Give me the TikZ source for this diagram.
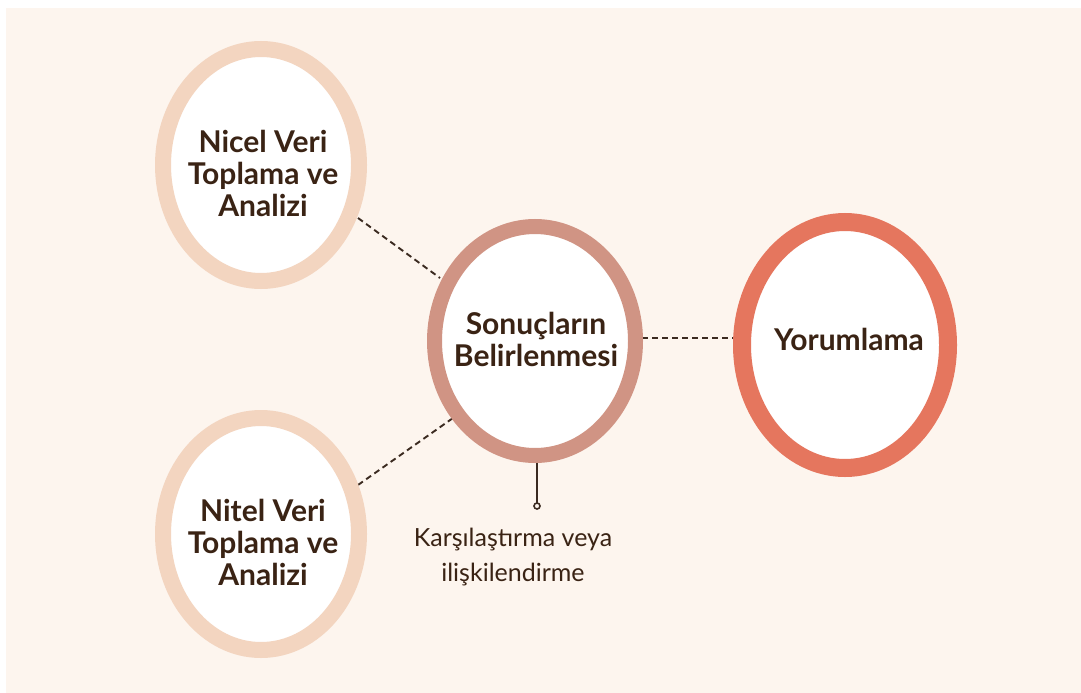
\documentclass[tikz,border=0pt]{standalone}
\usepackage{fontspec}
\setmainfont{Lato}
\newfontfamily\boldf{Lato}[UprightFont=* Bold]
\definecolor{bgc}{HTML}{FDF5EE}
\definecolor{txt}{HTML}{3A2314}
\definecolor{ringA}{HTML}{F3D5C0}
\definecolor{ringB}{HTML}{D09484}
\definecolor{ringC}{HTML}{E5765E}
\definecolor{lnc}{HTML}{3B2A20}
\begin{document}
\begin{tikzpicture}[x=1pt,y=-1pt,
  lbl/.style={text=txt, font=\boldf\fontsize{30}{32}\selectfont, align=center},
  dashc/.style={draw=lnc, line width=1.9pt, dash pattern=on 6pt off 4pt},
]
\useasboundingbox (0,0) rectangle (1081,693);
\fill[white] (0,0) rectangle (1081,693);
\fill[bgc] (6,8) rectangle (1081,693);
\coordinate (nc) at (261,165);
\coordinate (tc) at (261,534);
\coordinate (sc) at (535,341);
\coordinate (yc) at (845,345);
\coordinate (n1) at (358,218);
\coordinate (s1) at (440,278);
\coordinate (t1) at (358,485);
\coordinate (s2) at (453,418);
\coordinate (s3) at (642,338);
\coordinate (y1) at (733,338);
\draw[dashc] (n1) -- (s1);
\draw[dashc] (t1) -- (s2);
\draw[dashc] (s3) -- (y1);
\draw[ringA, line width=16pt, fill=white] (nc) ellipse [x radius=98, y radius=116];
\draw[ringA, line width=16pt, fill=white] (tc) ellipse [x radius=98, y radius=116];
\draw[ringB, line width=15pt, fill=white] (sc) ellipse [x radius=100.5, y radius=114.5];
\draw[ringC, line width=18pt, fill=white] (yc) ellipse [x radius=103, y radius=123];
\node[lbl] (nicel) at (263,173) {Nicel Veri\\Toplama ve\\Analizi};
\node[lbl] (nitel) at (263,542) {Nitel Veri\\Toplama ve\\Analizi};
\node[lbl] (sonuc) at (536,339) {Sonuçların\\Belirlenmesi};
\node[lbl] (yorum) at (849,339) {Yorumlama};
\coordinate (sb) at (537,463);
\coordinate (dot) at (537,506);
\draw[lnc, line width=2pt] (sb) -- ([yshift=-3pt]dot);
\draw[lnc, line width=1.6pt, fill=bgc] (dot) circle (3pt);
\node[text=txt, font=\fontsize{25}{35}\selectfont, align=center] (kars) at (513,557) {Karşılaştırma veya\\ilişkilendirme};
\end{tikzpicture}
\end{document}
